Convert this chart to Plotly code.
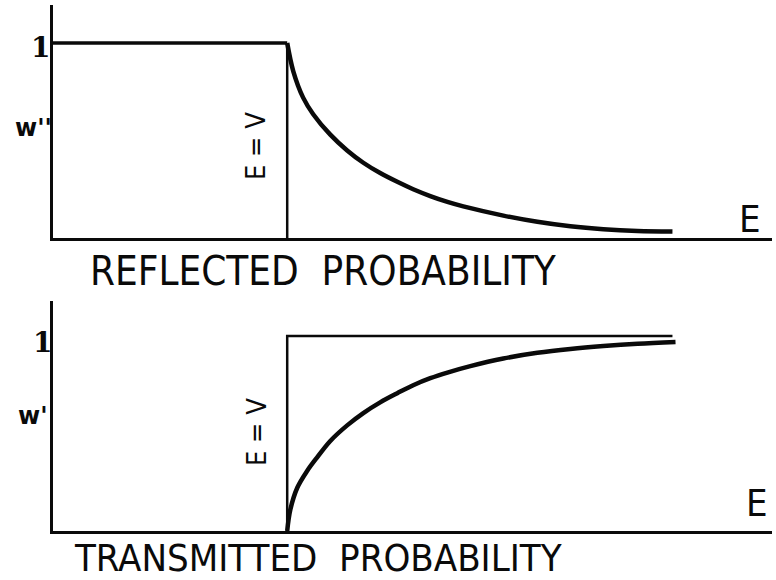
import plotly.graph_objects as go

W, H = 776, 580

# Energy measured in units of the step height V
V = 1.0
E_MAX = 3.07

# Reflected probability w'' above the step (E > V)
E_refl = [1.000, 1.026, 1.068, 1.111, 1.184, 1.256, 1.325, 1.397, 1.470, 1.538,
          1.611, 1.684, 1.752, 1.923, 2.068, 2.209, 2.350, 2.496, 2.645]
W_refl = [1.000, 0.855, 0.720, 0.635, 0.530, 0.449, 0.386, 0.333, 0.288, 0.250,
          0.215, 0.185, 0.162, 0.115, 0.083, 0.060, 0.045, 0.036, 0.033]

# Transmitted probability w' above the step (E > V)
E_trans = [1.000, 1.013, 1.043, 1.085, 1.128, 1.184, 1.256, 1.325, 1.397, 1.470,
           1.538, 1.611, 1.684, 1.782, 1.923, 2.068, 2.209, 2.350, 2.496, 2.658]
W_trans = [0.000, 0.108, 0.222, 0.308, 0.378, 0.462, 0.542, 0.605, 0.660, 0.707,
           0.748, 0.784, 0.813, 0.846, 0.885, 0.914, 0.934, 0.949, 0.961, 0.970]

# Classical limits: total reflection below V, unit transmission above V
E_classical_refl = [0.0, V, V]
W_classical_refl = [1.0, 1.0, 0.0]
E_classical_trans = [V, V, 2.645]
W_classical_trans = [0.0, 1.0, 1.0]

INK = "#0a0a0a"


def px_x(p):
    return p / W


def px_y(p):
    return 1 - p / H


fig = go.Figure()

# top panel: reflection
fig.add_trace(go.Scatter(x=E_classical_refl[:2], y=W_classical_refl[:2], mode="lines",
                         line=dict(color=INK, width=3.5), xaxis="x", yaxis="y",
                         hoverinfo="skip"))
fig.add_trace(go.Scatter(x=E_classical_refl[1:], y=W_classical_refl[1:], mode="lines",
                         line=dict(color=INK, width=2.5), xaxis="x", yaxis="y",
                         hoverinfo="skip"))
fig.add_trace(go.Scatter(x=E_refl, y=W_refl, mode="lines",
                         line=dict(color=INK, width=4.5, shape="spline", smoothing=1.0),
                         xaxis="x", yaxis="y"))

# bottom panel: transmission
fig.add_trace(go.Scatter(x=E_classical_trans, y=W_classical_trans, mode="lines",
                         line=dict(color=INK, width=2.5), xaxis="x2", yaxis="y2",
                         hoverinfo="skip"))
fig.add_trace(go.Scatter(x=E_trans, y=W_trans, mode="lines",
                         line=dict(color=INK, width=4.5, shape="spline", smoothing=1.0),
                         xaxis="x2", yaxis="y2"))

x_dom = [px_x(53), px_x(772)]
axis_common = dict(showline=True, linecolor=INK, linewidth=2.5, showgrid=False,
                   zeroline=False, showticklabels=False, ticks="", fixedrange=True)

fig.update_layout(
    width=W, height=H,
    margin=dict(l=0, r=0, t=0, b=0),
    paper_bgcolor="white", plot_bgcolor="white",
    showlegend=False,
    xaxis=dict(domain=x_dom, range=[0, E_MAX], anchor="y", **axis_common),
    yaxis=dict(domain=[px_y(238), px_y(5)], range=[0, 1.195], anchor="x", **axis_common),
    xaxis2=dict(domain=x_dom, range=[0, E_MAX], anchor="y2", **axis_common),
    yaxis2=dict(domain=[px_y(531), px_y(301)], range=[0, 1.18], anchor="x2", **axis_common),
)

sans = "DejaVu Sans"
narrow = "DejaVu Sans Condensed, DejaVu Sans"
serif = "DejaVu Serif"
ann = []


def label(text, x, y, size, family=sans, angle=0, bold=False):
    t = f"<b>{text}</b>" if bold else text
    ann.append(dict(text=t, x=px_x(x), y=px_y(y), xref="paper", yref="paper",
                    showarrow=False, xanchor="center", yanchor="middle",
                    textangle=angle, font=dict(family=family, size=size, color=INK)))


# panel captions
label("REFLECTED  PROBABILITY", 323, 271, 40, family=narrow)
label("TRANSMITTED  PROBABILITY", 318, 558, 38, family=narrow)

# value "1" on each probability axis
label("1", 40, 48, 28, family=serif, bold=True)
label("1", 42, 342, 28, family=serif, bold=True)

# axis names
label("w''", 33, 128, 24, bold=True)
label("w'", 33, 416, 24, bold=True)
label("E", 750, 219, 38, family=narrow)
label("E", 757, 503, 38, family=narrow)

# step position marker
label("E = V", 256, 146, 27, family=narrow, angle=-90)
label("E = V", 256, 432, 27, family=narrow, angle=-90)

fig.update_layout(annotations=ann)

fig.write_html("out.html")
